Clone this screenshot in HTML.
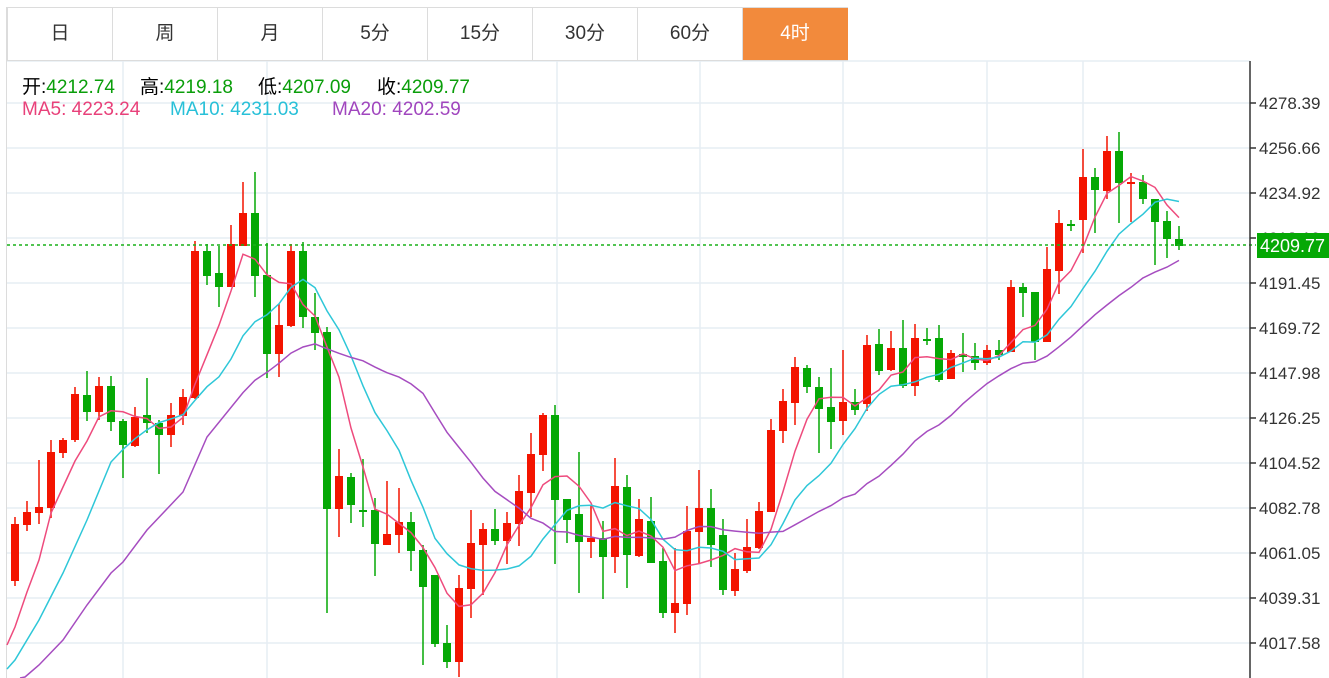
<!DOCTYPE html>
<html><head><meta charset="utf-8">
<style>
body{margin:0;width:1329px;height:678px;overflow:hidden;background:#fff;font-family:"Liberation Sans","Noto Sans CJK SC",sans-serif;}
.tabs{position:absolute;left:7px;top:7px;height:52px;display:flex;border:1px solid #dcdcdc;border-right:none;}
.tab{width:104px;height:52px;border-right:1px solid #dcdcdc;text-align:center;line-height:52px;font-size:19px;color:#333;}
.tab.on{background:#f28a3c;color:#fff;border-right-color:#f28a3c}
.h{position:absolute;font-size:19px;white-space:nowrap}
.g{color:#0a9e0a}
</style></head><body>
<svg id="s" width="1329" height="678" style="position:absolute;left:0;top:0"></svg>
<div class="tabs"><div class="tab">日</div><div class="tab">周</div><div class="tab">月</div><div class="tab">5分</div><div class="tab">15分</div><div class="tab">30分</div><div class="tab">60分</div><div class="tab on">4时</div></div>
<div class="h" style="top:72px;left:22px">开:<span class="g">4212.74</span></div>
<div class="h" style="top:72px;left:140px">高:<span class="g">4219.18</span></div>
<div class="h" style="top:72px;left:258px">低:<span class="g">4207.09</span></div>
<div class="h" style="top:72px;left:377px">收:<span class="g">4209.77</span></div>
<div class="h" style="top:99px;left:22px;color:#e8417a">MA5: 4223.24</div>
<div class="h" style="top:99px;left:170px;color:#28c0d8">MA10: 4231.03</div>
<div class="h" style="top:99px;left:332px;color:#a046be">MA20: 4202.59</div>
<script>
var D=[
['r',524,581,517,586],['r',512,525,501,531],['r',507,513,460,524],['r',452,508,440,518],['r',440,453,438,458],['r',394,440,387,442],['g',395,412,371,421],['r',386,412,377,420],['g',386,422,376,431],['g',421,445,419,478],
['r',417,446,407,447],['g',415,423,378,433],['g',423,435,420,474],['r',415,435,403,447],['r',397,416,389,425],['r',251,398,241,399],['g',251,276,244,285],['g',273,287,246,307],['r',244,287,225,287],['r',213,246,182,246],
['g',213,276,172,297],['g',275,354,243,378],['r',325,354,304,377],['r',251,326,244,327],['g',251,317,242,328],['g',317,333,293,350],['g',332,509,327,613],['r',476,509,449,537],['g',477,505,473,523],['g',510,512,459,527],
['g',510,544,498,576],['r',534,545,481,545],['r',522,535,488,553],['g',522,551,512,571],['g',550,587,545,665],['g',575,644,575,647],['g',643,662,625,668],['r',588,662,575,677],['r',543,589,510,618],['r',529,545,523,595],
['g',529,541,509,545],['r',523,541,512,564],['r',491,524,475,546],['r',454,493,433,517],['r',415,455,413,471],['g',415,500,405,564],['g',499,520,499,543],['g',514,542,452,593],['r',538,542,505,558],['g',538,557,521,599],
['r',486,557,458,573],['g',487,555,475,588],['r',519,556,499,557],['g',521,563,497,563],['g',561,613,548,618],['r',603,613,548,633],['r',531,604,506,615],['r',508,532,470,563],['g',508,545,489,567],['g',535,590,519,595],
['r',569,591,553,596],['r',547,571,519,573],['r',511,548,502,549],['r',430,512,419,512],['r',401,431,389,443],['r',367,403,357,425],['g',368,387,365,393],['g',387,409,377,453],['g',407,422,368,449],['r',402,421,350,435],
['g',402,410,389,415],['r',345,404,335,411],['g',344,371,329,375],['r',348,370,331,371],['g',348,386,320,388],['r',338,386,324,396],['g',339,341,328,345],['g',338,380,325,382],['r',353,379,350,379],['g',354,357,333,372],
['g',356,363,343,370],['r',350,363,345,365],['g',350,355,340,360],['r',287,352,280,352],['g',287,293,283,317],['g',292,342,292,360],['r',269,342,247,342],['r',223,271,210,294],['g',224,226,220,231],['r',177,220,149,253],
['g',177,190,168,233],['r',151,191,136,199],['g',151,183,132,223],['r',182,184,173,222],['g',182,199,175,204],['g',199,222,199,265],['g',221,239,211,258],['g',239,246,226,250]];
var h='';
for(var k=0;k<13;k++){var y=103+45*k;h+='<line x1="7" x2="1250" y1="'+y+'" y2="'+y+'" stroke="#e6edf3" stroke-width="1.5"/>';}
h+='<line x1="7" x2="1250" y1="61" y2="61" stroke="#e6edf3" stroke-width="1.5"/>';
[123,267,557,700,843,987,1083].forEach(function(x){h+='<line x1="'+x+'" x2="'+x+'" y1="61" y2="678" stroke="#e6edf3" stroke-width="1.5"/>';});
h+='<line x1="6.5" x2="6.5" y1="7" y2="678" stroke="#dcdcdc"/>';
var C=[];
D.forEach(function(d,i){var x=15+12*i,col=d[0]=='r'?'#f31400':'#05a805';
C.push(d[0]=='r'?d[1]:d[2]);
h+='<line x1="'+x+'" x2="'+x+'" y1="'+d[3]+'" y2="'+d[4]+'" stroke="'+col+'" stroke-width="1.5"/>';
var bh=Math.max(d[2]-d[1],2);h+='<rect x="'+(x-4)+'" y="'+d[1]+'" width="8" height="'+bh+'" fill="'+col+'"/>';});
function ma(n,pre,col){var p=pre.slice();for(var i=n-1;i<C.length;i++){var s=0;for(var j=0;j<n;j++)s+=C[i-j];p.push([15+12*i,s/n]);}
h+='<polyline fill="none" stroke="'+col+'" stroke-width="1.5" points="'+p.map(function(q){return q[0]+','+q[1].toFixed(1)}).join(' ')+'"/>';}
ma(5,[[7,645],[15,627],[27,592],[39,560],[51,513]],'#ee4b7d');
ma(10,[[7,669],[15,660],[39,620],[63,573],[87,520],[111,462]],'#2ec7d8');
ma(20,[[20,678],[25,677],[39,665],[63,640],[87,605],[111,573],[123,562],[147,530],[183,492],[207,437]],'#a64dc0');
h+='<line x1="7" x2="1256" y1="245" y2="245" stroke="#19b019" stroke-width="1.5" stroke-dasharray="3,3"/>';
h+='<line x1="1250" x2="1250" y1="61" y2="678" stroke="#333" stroke-width="1.5"/>';
var L=['4278.39','4256.66','4234.92','4213.19','4191.45','4169.72','4147.98','4126.25','4104.52','4082.78','4061.05','4039.31','4017.58'];
L.forEach(function(t,k){var y=103+45*k;h+='<line x1="1250" x2="1256" y1="'+y+'" y2="'+y+'" stroke="#333" stroke-width="1.5"/><text x="1259" y="'+(y+6)+'" font-size="17" fill="#333" font-family="Liberation Sans,sans-serif">'+t+'</text>';});
h+='<rect x="1257" y="233" width="72" height="25" fill="#05a805"/><text x="1260" y="252" font-size="18" fill="#fff" font-family="Liberation Sans,sans-serif">4209.77</text>';
document.getElementById('s').innerHTML=h;
</script>
</body></html>
